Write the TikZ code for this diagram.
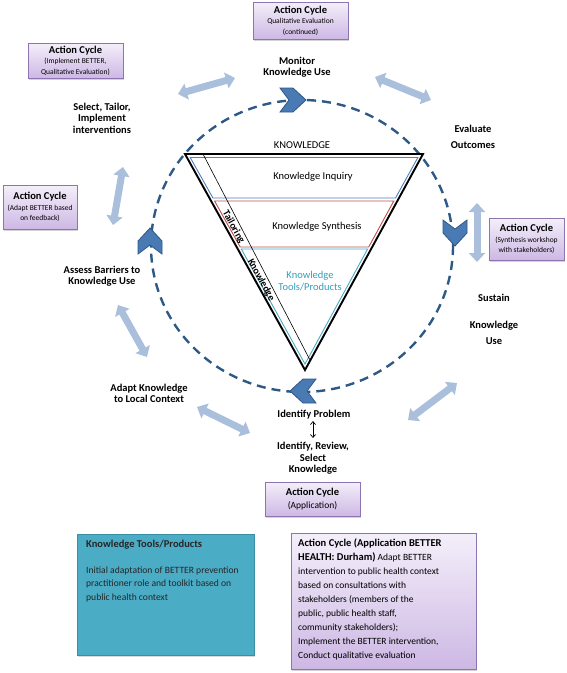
\documentclass[tikz,border=0pt]{standalone}
\usepackage{fontspec}
\setmainfont{Carlito}
\usetikzlibrary{arrows.meta,shadows}
\definecolor{dashblue}{HTML}{2D5986}
\definecolor{chevfill}{HTML}{4A7AB3}
\definecolor{chevdraw}{HTML}{2D5986}
\definecolor{arrowblue}{HTML}{A9BFDC}
\definecolor{boxborder}{HTML}{8E74B0}
\definecolor{boxtop}{HTML}{F4EFFA}
\definecolor{boxbot}{HTML}{CDB8E4}
\definecolor{tealfill}{HTML}{4BACC6}
\definecolor{tealborder}{HTML}{3A8FA6}
\definecolor{triblue}{HTML}{4F81BD}
\definecolor{trired}{HTML}{C0504D}
\definecolor{tricyan}{HTML}{4BACC6}
\definecolor{cyantext}{HTML}{31A0BE}
\begin{document}
\begin{tikzpicture}[x=1pt,y=-1pt,
  acbox/.style={draw=boxborder, line width=0.7pt, top color=boxtop, bottom color=boxbot,
    drop shadow={opacity=0.35, shadow xshift=1.2pt, shadow yshift=-1.5pt},
    align=center, inner sep=1pt, font=\fontsize{7.5}{10.5}\selectfont},
  lbl/.style={font=\fontsize{10.5}{11.5}\selectfont\bfseries, align=center, inner sep=1pt},
  tri/.style={font=\fontsize{10.5}{12.5}\selectfont, align=center, inner sep=1pt},
  slanted/.style={font=\fontsize{10}{12}\selectfont\bfseries, rotate=-61, inner sep=0pt},
  lbarrow/.style={line width=7pt, draw=arrowblue,
    {Triangle[width=16pt,length=9pt]}-{Triangle[width=16pt,length=9pt]}},
  chev/.pic={\draw[fill=chevfill, draw=chevdraw, line width=0.8pt, line join=miter]
     (-13,-12) -- (0,-12) -- (13,0) -- (0,12) -- (-13,12) -- (-4,0) -- cycle;}
]
\useasboundingbox (0,0) rectangle (567,673);

% dashed cycle
\draw[dashblue, line width=2.4pt, dash pattern=on 9pt off 6pt] (302,246) ellipse [x radius=151, y radius=146];

% triangle
\coordinate (TL) at (185,154);
\coordinate (TR) at (423,154);
\coordinate (TB) at (305,370);
\fill[white] (TL) -- (TR) -- (TB) -- cycle;
\draw[triblue, line width=0.9pt] (190.2,157.5) -- (417.9,157.5) -- (395.5,198) -- (212.9,198) -- cycle;
\draw[trired, line width=0.9pt] (214.6,201) -- (393.8,201) -- (368.7,247) -- (240.2,247) -- cycle;
\draw[tricyan, line width=0.9pt] (241.3,249) -- (367.6,249) -- (305,364) -- cycle;
\coordinate (DG1) at (203,154);
\coordinate (DG2) at (310.5,361);
\draw[black, line width=0.6pt] (DG1) -- (DG2);
\draw[black, line width=1.9pt, line join=miter] (TL) -- (TR) -- (TB) -- cycle;

\node[tri] (kn) at (302,145) {KNOWLEDGE};
\node[tri] (kinq) at (313,177) {Knowledge Inquiry};
\node[tri] (ksyn) at (317,227) {Knowledge Synthesis};
\node[tri, text=cyantext] (ktool) at (310,281) {Knowledge\\Tools/Products};
\node[slanted] (tail) at (233.5,227) {Tailoring};
\node[slanted] (tknow) at (261,280) {Knowledge};

% chevrons
\pic (chtop) at (293,100) {chev};
\pic[rotate=-90] (chright) at (455,233) {chev};
\pic[rotate=180] (chbot) at (303,391) {chev};
\pic[rotate=90] (chleft) at (150,241) {chev};

% stage labels
\node[lbl] (mon) at (297,67) {Monitor\\Knowledge Use};
\node[lbl] (sel) at (102,118) {Select, Tailor,\\Implement\\interventions};
\node[lbl] (eva) at (473,137) {Evaluate\\[5pt]Outcomes};
\node[lbl] (ass) at (102,276) {Assess Barriers to\\Knowledge Use};
\node[lbl] (sus) at (494,319) {Sustain\\[16pt]Knowledge\\[4pt]Use};
\node[lbl] (ada) at (149,393.5) {Adapt Knowledge\\to Local Context};
\node[lbl] (idp) at (314,415) {Identify Problem};
\node[lbl] (irs) at (313,458.5) {Identify, Review,\\Select\\Knowledge};
\coordinate (idpa) at (313,421);
\coordinate (idpb) at (313,438);
\draw[{Straight Barb[length=3pt,width=5pt]}-{Straight Barb[length=3pt,width=5pt]}, line width=0.7pt] (idpa) -- (idpb);

% light double arrows
\coordinate (a1s) at (178,94);  \coordinate (a1e) at (235,78);
\coordinate (a2s) at (375,77);  \coordinate (a2e) at (431,100);
\coordinate (a3s) at (477,203); \coordinate (a3e) at (477,262);
\coordinate (a4s) at (408,420); \coordinate (a4e) at (457,383);
\coordinate (a5s) at (197,407); \coordinate (a5e) at (250,433);
\coordinate (a6s) at (118,305); \coordinate (a6e) at (147,357);
\coordinate (a7s) at (123,167); \coordinate (a7e) at (113,225);
\foreach \i in {1,...,7} {\draw[lbarrow] (a\i s) -- (a\i e);}

% action cycle boxes
\node[acbox, minimum width=95pt, minimum height=37pt] (bTop) at (300.5,20.5)
  {{\fontsize{10.5}{11}\selectfont\bfseries Action Cycle}\\Qualitative Evaluation\\(continued)};
\node[acbox, minimum width=95pt, minimum height=35pt] (bTL) at (75.5,60.5)
  {{\fontsize{10.5}{11}\selectfont\bfseries Action Cycle}\\(Implement BETTER,\\Qualitative Evaluation)};
\node[acbox, minimum width=74pt, minimum height=44pt] (bL) at (40,207)
  {{\fontsize{10.5}{11}\selectfont\bfseries Action Cycle}\\(Adapt BETTER based\\on feedback)};
\node[acbox, minimum width=75pt, minimum height=42pt] (bR) at (526.5,239)
  {{\fontsize{10.5}{11}\selectfont\bfseries Action Cycle}\\(Synthesis workshop\\with stakeholders)};
\node[acbox, minimum width=95pt, minimum height=34pt, font=\fontsize{9.5}{13.5}\selectfont] (bB) at (312.5,499)
  {{\fontsize{10.5}{11}\selectfont\bfseries Action Cycle}\\(Application)};

% big bottom boxes
\node[acbox, minimum width=185pt, minimum height=136pt] (bigbox) at (383.5,601) {};
\node[anchor=north west, align=left, inner sep=0pt, font=\fontsize{9.5}{14}\selectfont] (bigtext) at (298,538)
  {{\fontsize{10.5}{14}\selectfont\bfseries Action Cycle (Application BETTER}\\
   {\fontsize{10.5}{14}\selectfont\bfseries HEALTH: Durham)} Adapt BETTER\\
   intervention to public health context\\
   based on consultations with\\
   stakeholders (members of the\\
   public, public health staff,\\
   community stakeholders);\\
   Implement the BETTER intervention,\\
   Conduct qualitative evaluation};

\node[draw=tealborder, fill=tealfill, line width=0.9pt, minimum width=177pt, minimum height=121pt,
  drop shadow={opacity=0.3, shadow xshift=1.2pt, shadow yshift=-1.5pt}] (teal) at (165.5,594.5) {};
\node[anchor=north west, align=left, inner sep=0pt, font=\fontsize{9.6}{13.5}\selectfont, text=black!85] (tealtext) at (86,540)
  {{\fontsize{10.5}{13.5}\selectfont\bfseries Knowledge Tools/Products}\\[12pt]
   Initial adaptation of BETTER prevention\\
   practitioner role and toolkit based on\\
   public health context};
\end{tikzpicture}
\end{document}
